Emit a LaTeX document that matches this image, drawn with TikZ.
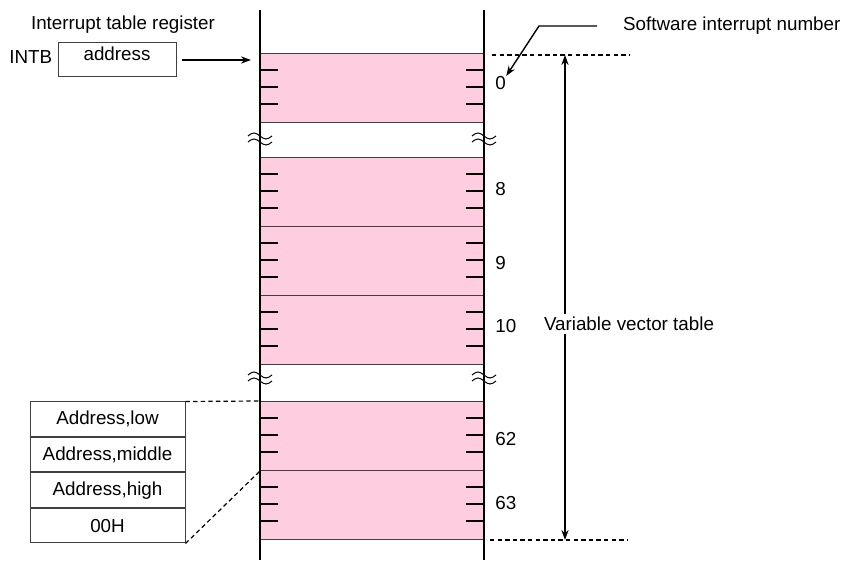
\documentclass[tikz,border=0pt]{standalone}
\usepackage{fontspec}
\setmainfont{Liberation Sans}
\usetikzlibrary{arrows.meta}
\definecolor{vecpink}{RGB}{255,204,224}
\begin{document}
\begin{tikzpicture}[x=0.5pt,y=-0.5pt,font=\fontsize{9.4}{11}\selectfont,rail/.style={line width=1.1pt},slot/.style={fill=vecpink, draw=black!75, line width=0.5pt, minimum width=112pt, minimum height=34.5pt, inner sep=0pt, anchor=north west},tick/.style={line width=0.65pt},num/.style={anchor=west, inner sep=0pt},cell/.style={draw=black!75, line width=0.5pt, minimum width=77.5pt, minimum height=17.25pt, inner sep=0pt, anchor=north},guide/.style={line width=0.6pt, dash pattern=on 2.2pt off 1.6pt},pointer/.style={-{Stealth[length=5pt,width=3.6pt]}, line width=0.7pt},span/.style={{Stealth[length=5pt,width=3.6pt]}-{Stealth[length=5pt,width=3.6pt]}, line width=0.7pt}]
\newcommand{\vecslot}[3]{\node[slot] (s#2) at (260,#1) {};\foreach \d in {17,34,51}{\draw[tick] (260,#1+\d) -- +(18,0);\draw[tick] (484,#1+\d) -- +(-18,0);}\node[num] (n#2) at (495,#3) {#2};}
\newcommand{\railbreak}[2]{\foreach \w in {-3,3}\draw[line width=0.5pt] ({#1-12},{#2+(\w)}) sin ({#1-6},{#2+(\w)-3}) cos (#1,{#2+(\w)}) sin ({#1+6},{#2+(\w)+3}) cos ({#1+12},{#2+(\w)});}
\useasboundingbox (0,0) rectangle (843,561);
\vecslot{53}{0}{83}\vecslot{157}{8}{189}\vecslot{226}{9}{263}\vecslot{295}{10}{326}\vecslot{401}{62}{439}\vecslot{470}{63}{503}
\draw[rail] (260,10) -- (260,560);\draw[rail] (484,10) -- (484,560);
\railbreak{260}{139}\railbreak{484}{139}\railbreak{260}{378}\railbreak{484}{378}
\node (regtitle) at (123,25) {Interrupt table register};
\node[draw=black!75, line width=0.5pt, minimum width=59pt, minimum height=17pt, text depth=6pt, inner sep=0pt] (intb) at (117,60) {address};
\node[anchor=east, inner sep=2.5pt] (intbname) at ([yshift=1.5pt]intb.west) {INTB};
\coordinate (entry) at (251,60);
\draw[pointer, shorten <=2.5pt] (intb) -- (entry);
\node[anchor=west] (swnum) at (616,26) {Software interrupt number};
\coordinate (swbend) at (539,26);
\draw[pointer, shorten <=9.5pt] (swnum.west) -- (swbend) -- (n0.north east);
\coordinate (vtop) at (565,55);\coordinate (vbot) at (565,540);
\draw[guide] (492,55) -- (630,55);\draw[guide] (490,540) -- (628,540);
\draw[span] (vtop) -- (vbot);
\node[fill=white, inner xsep=0pt, inner ysep=1.5pt] (vvt) at (629,324) {Variable vector table};
\node[cell] (alow) at (107.5,401.5) {Address,low};
\node[cell] (amid) at (alow.south) {Address,middle};
\node[cell] (ahigh) at (amid.south) {Address,high};
\node[cell] (azero) at (ahigh.south) {00H};
\draw[guide] (alow.north east) -- (s62.north west);
\draw[guide] (azero.south east) -- (s62.south west);
\end{tikzpicture}
\end{document}
